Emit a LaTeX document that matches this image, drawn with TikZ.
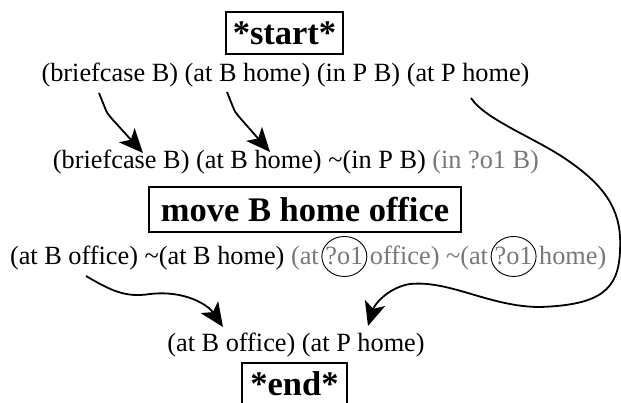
\documentclass[tikz,border=0pt]{standalone}
\usepackage{fontspec}
\setmainfont{Liberation Serif}
\usetikzlibrary{arrows.meta}
\definecolor{gr}{RGB}{120,120,120}
\newcommand{\normtxt}{\fontsize{26.3}{30}\selectfont}
\newcommand{\boldtxt}{\fontsize{34.5}{40}\selectfont\bfseries}
\begin{document}
\begin{tikzpicture}[x=1pt,y=-1pt,
  txt/.style={font=\normtxt, inner sep=0pt, outer sep=0pt},
  box/.style={draw, line width=1.1pt, font=\boldtxt, inner sep=0pt},
  conn/.style={line width=1.8pt, -{Stealth[length=24pt,width=21pt,inset=6pt]}},
  oval/.style={line width=0.9pt}]
\fill[white] (0,0) rectangle (621,402);
\useasboundingbox (0,0) rectangle (621,402);

\node[box, minimum width=117pt, minimum height=42pt] (start) at (284.5,33) {*start*};
\node[txt] (l1) at (285.5,75) {(briefcase B) (at B home) (in P B) (at P home)};
\node[txt] (l2) at (296,162) {(briefcase B) (at B home) \textasciitilde(in P B) \textcolor{gr}{(in ?o1 B)}};
\node[box, minimum width=312pt, minimum height=45pt] (move) at (305,209.5) {move B home office};

\node[txt, anchor=base west] (l3a) at (10,264) {(at B office) \textasciitilde(at B home) \textcolor{gr}{(at}\ \mbox{}};
\node[txt, text=gr, anchor=base west] (o1a) at (l3a.base east) {?o1};
\node[txt, text=gr, anchor=base west] (l3b) at (o1a.base east) {\mbox{}\ office) \textasciitilde(at\ \mbox{}};
\node[txt, text=gr, anchor=base west] (o1b) at (l3b.base east) {?o1};
\node[txt, text=gr, anchor=base west] (l3c) at (o1b.base east) {\mbox{}\ home)};
\draw[oval] ([yshift=-1pt]o1a.center) ellipse [x radius=22.5pt, y radius=20pt];
\draw[oval] ([yshift=-1pt]o1b.center) ellipse [x radius=22.5pt, y radius=20pt];

\node[txt] (l4) at (296,345) {(at B office) (at P home)};
\node[box, minimum width=105pt, minimum height=42pt] (end) at (294.5,384) {*end*};

\coordinate (a1s) at (99,93);
\coordinate (a1e) at (143,153);
\coordinate (a2s) at (227,92);
\coordinate (a2e) at (270,152);
\coordinate (a3s) at (86,276);
\coordinate (a3e) at (223,327);
\coordinate (a4s) at (471,98);
\coordinate (a4e) at (368,326);

\draw[conn] (a1s) -- (105,108) .. controls (107,113) .. (113,120) -- (a1e);
\draw[conn] (a2s) -- (233,107) .. controls (235,112) .. (241,119) -- (a2e);
\draw[conn] (a3s) .. controls (110,290) and (125,298) .. (150,294)
  .. controls (185,290) and (208,305) .. (a3e);
\draw[conn] (a4s) .. controls (485,120) and (540,140) .. (570,162)
  .. controls (610,190) and (622,215) .. (620,250)
  .. controls (619,290) and (600,305) .. (540,307)
  .. controls (490,307) and (450,280) .. (410,284)
  .. controls (390,287) and (375,303) .. (a4e);
\end{tikzpicture}
\end{document}
